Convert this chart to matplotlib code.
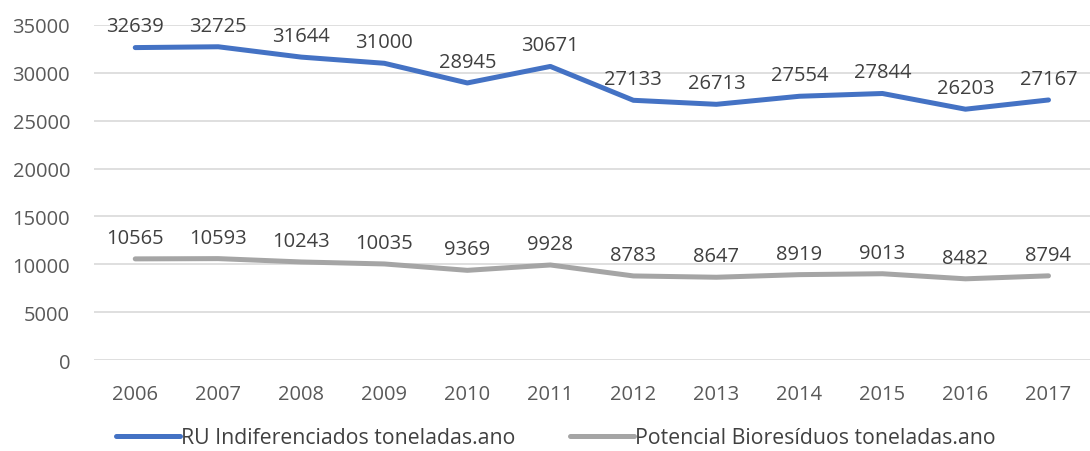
import matplotlib.pyplot as plt

plt.rcParams['font.family'] = ['Open Sans', 'DejaVu Sans']

years = ['2006', '2007', '2008', '2009', '2010', '2011',
         '2012', '2013', '2014', '2015', '2016', '2017']
ru_indif = [32639, 32725, 31644, 31000, 28945, 30671,
            27133, 26713, 27554, 27844, 26203, 27167]
bioresiduos = [10565, 10593, 10243, 10035, 9369, 9928,
               8783, 8647, 8919, 9013, 8482, 8794]

fig = plt.figure(figsize=(10.9, 4.52), dpi=100)
ax = fig.add_axes([0.086, 0.2013, 0.914, 0.7412])

x = list(range(len(years)))
ax.plot(x, ru_indif, color='#4472C4', lw=3.6, solid_capstyle='round',
        label='RU Indiferenciados toneladas.ano', zorder=3)
ax.plot(x, bioresiduos, color='#A5A5A5', lw=3.6, solid_capstyle='round',
        label='Potencial Bioresíduos toneladas.ano', zorder=3)

for xi, v in zip(x, ru_indif):
    ax.annotate(str(v), (xi, v), xytext=(0, 8), textcoords='offset points',
                ha='center', va='bottom', fontsize=14.5, color='#404040',
                annotation_clip=False)
for xi, v in zip(x, bioresiduos):
    ax.annotate(str(v), (xi, v), xytext=(0, 8), textcoords='offset points',
                ha='center', va='bottom', fontsize=14.5, color='#404040')

ax.set_xlim(-0.5, len(years) - 0.5)
ax.set_ylim(0, 35000)
ax.set_yticks(range(0, 35001, 5000))
ax.set_xticks(x)
ax.set_xticklabels(years)
ax.tick_params(axis='both', length=0, labelsize=14.5, labelcolor='#595959')
ax.tick_params(axis='x', pad=17)
ax.tick_params(axis='y', pad=17)
ax.grid(axis='y', color='#D9D9D9', lw=1.2)
ax.set_axisbelow(True)
for s in ax.spines.values():
    s.set_visible(False)

fig.legend(loc='lower center', bbox_to_anchor=(0.51, -0.036), ncol=2,
           frameon=False, fontsize=15.3, handlelength=3.0, handletextpad=0.05,
           columnspacing=2.6, labelcolor='#404040')

fig.savefig('out.png', dpi=100)
